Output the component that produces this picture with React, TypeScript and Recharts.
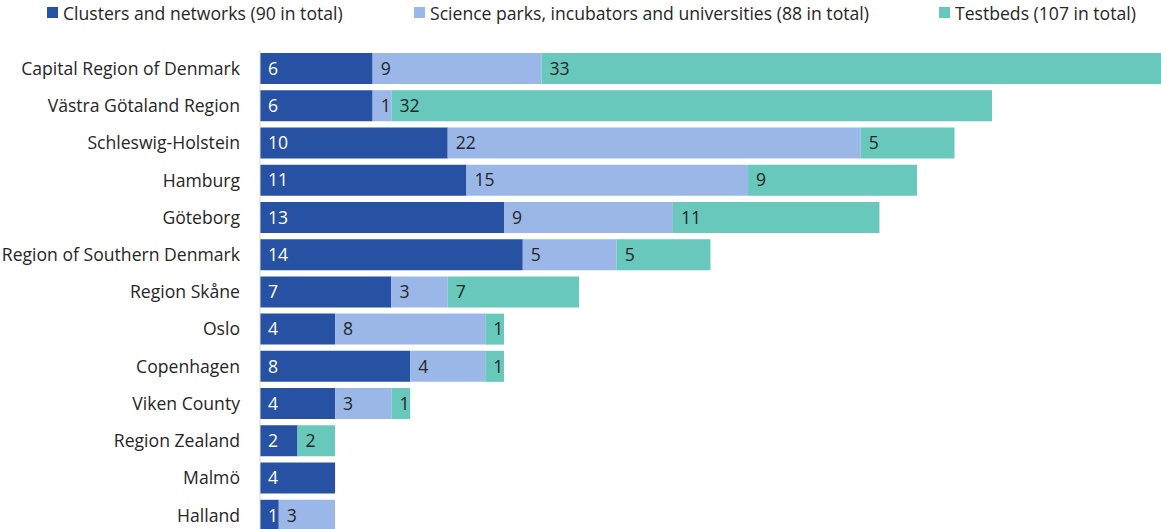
import { BarChart, Bar, XAxis, YAxis, LabelList } from 'recharts'

const regions = [
  'Capital Region of Denmark',
  'Västra Götaland Region',
  'Schleswig-Holstein',
  'Hamburg',
  'Göteborg',
  'Region of Southern Denmark',
  'Region Skåne',
  'Oslo',
  'Copenhagen',
  'Viken County',
  'Region Zealand',
  'Malmö',
  'Halland',
]

const clusters = [6, 6, 10, 11, 13, 14, 7, 4, 8, 4, 2, 4, 1]
const sciencePark = [9, 1, 22, 15, 9, 5, 3, 8, 4, 3, 0, 0, 3]
const testbeds = [33, 32, 5, 9, 11, 5, 7, 1, 1, 1, 2, 0, 0]

const seriesNames = [
  'Clusters and networks (90 in total)',
  'Science parks, incubators and universities (88 in total)',
  'Testbeds (107 in total)',
]

const colors = ['#2752a3', '#9bb7e8', '#68c8bb']
const legendX = [47, 414, 939]

const FONT = '"Open Sans", "Noto Sans", sans-serif'
const FS = 17.6
const TEXT = '#262626'

const data = regions.map((name, i) => ({
  name,
  clusters: clusters[i],
  science: sciencePark[i],
  testbeds: testbeds[i],
}))

// hide labels on empty segments
const fmt = (v: any) => (v ? v : '')

const LegendRow = () => (
  <div style={{ position: 'absolute', left: 0, top: 0, height: 25, width: 1161 }}>
    {seriesNames.map((n, i) => (
      <div
        key={n}
        style={{
          position: 'absolute',
          left: legendX[i],
          top: 0,
          height: 25,
          display: 'flex',
          alignItems: 'center',
          fontFamily: FONT,
          fontSize: FS,
          color: TEXT,
          whiteSpace: 'nowrap',
        }}
      >
        <span style={{ width: 11, height: 11, background: colors[i], marginRight: 5, display: 'inline-block' }} />
        {n}
      </div>
    ))}
  </div>
)

export default function App() {
  return (
    <div style={{ position: 'absolute', left: 0, top: 0, width: 1161, height: 529, overflow: 'hidden', background: '#fff' }}>
      <LegendRow />
      <BarChart
        width={1161}
        height={534}
        data={data}
        layout="vertical"
        margin={{ top: 50, right: 0, bottom: 0, left: 0 }}
        barSize={31}
      >
        <XAxis type="number" domain={[0, 48]} hide />
        <YAxis
          type="category"
          dataKey="name"
          width={260}
          tickLine={false}
          axisLine={{ stroke: '#d9d9d9' }}
          tickMargin={14}
          interval={0}
          tick={{ fill: TEXT, fontSize: FS, fontFamily: FONT }}
        />
        <Bar dataKey="clusters" stackId="a" fill={colors[0]} isAnimationActive={false}>
          <LabelList dataKey="clusters" position="insideLeft" offset={8} formatter={fmt} fill="#ffffff" fontSize={FS} fontFamily={FONT} />
        </Bar>
        <Bar dataKey="science" stackId="a" fill={colors[1]} isAnimationActive={false}>
          <LabelList dataKey="science" position="insideLeft" offset={8} formatter={fmt} fill={TEXT} fontSize={FS} fontFamily={FONT} />
        </Bar>
        <Bar dataKey="testbeds" stackId="a" fill={colors[2]} isAnimationActive={false}>
          <LabelList dataKey="testbeds" position="insideLeft" offset={8} formatter={fmt} fill={TEXT} fontSize={FS} fontFamily={FONT} />
        </Bar>
      </BarChart>
    </div>
  )
}
